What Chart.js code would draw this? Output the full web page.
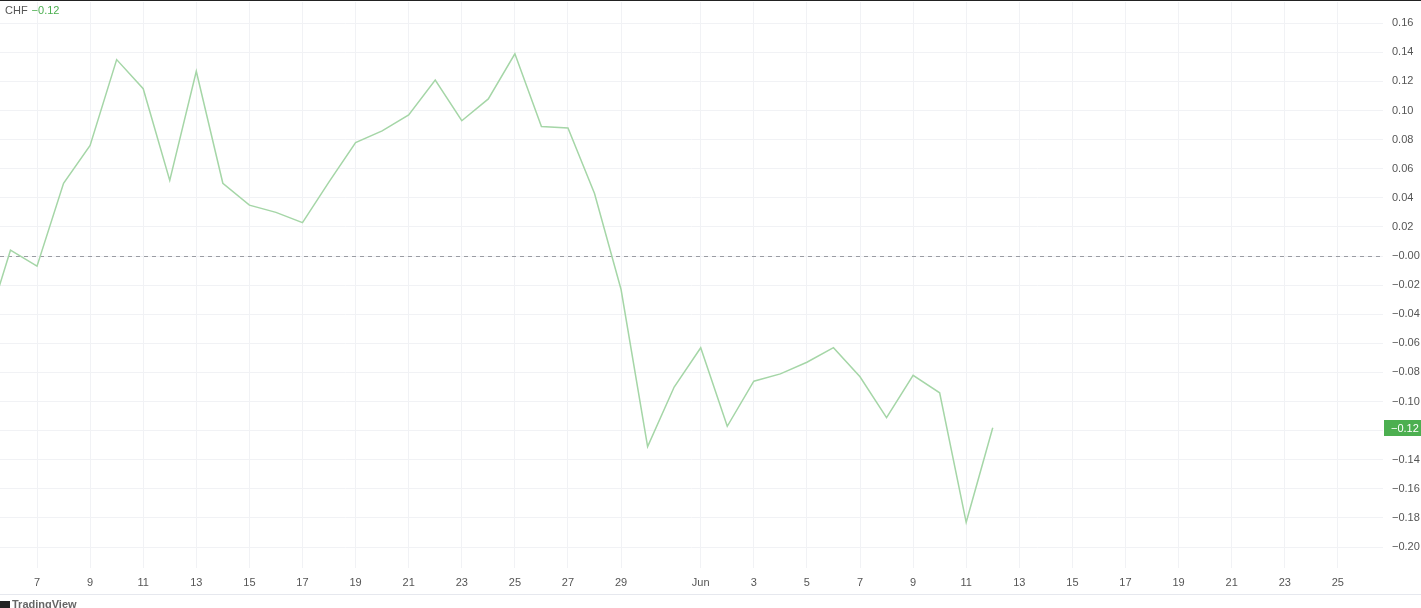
<!DOCTYPE html>
<html>
<head>
<meta charset="utf-8">
<title>CHF</title>
<script src="https://cdn.jsdelivr.net/npm/chart.js@4.4.1/dist/chart.umd.min.js"></script>
<style>
  html, body { margin: 0; padding: 0; background: #fff; overflow: hidden; }
  #wrap { position: relative; width: 1421px; height: 608px; }
  #legend {
    position: absolute; left: 5px; top: 4px;
    font: 11px "Liberation Sans", Arial, sans-serif; color: #555;
  }
  #legend .val { color: #4caf50; margin-left: 4px; }
  #brand {
    position: absolute; left: 0; top: 598px; height: 10px; overflow: hidden;
    font: bold 11px "Liberation Sans", Arial, sans-serif; color: #666; white-space: nowrap;
  }
  #brand .logo { display: inline-block; width: 10px; height: 8px; background: #222; margin-right: 2px; vertical-align: -1px; }
</style>
</head>
<body>
<div id="wrap">
  <canvas id="chart" width="1421" height="608"></canvas>
  <div id="legend">CHF<span class="val">&minus;0.12</span></div>
  <div id="brand"><span class="logo"></span>TradingView</div>
</div>
<script>
// daily values
const dates = [
  '2024-05-05', '2024-05-06', '2024-05-07', '2024-05-08', '2024-05-09', '2024-05-10',
  '2024-05-11', '2024-05-12', '2024-05-13', '2024-05-14', '2024-05-15', '2024-05-16',
  '2024-05-17', '2024-05-18', '2024-05-19', '2024-05-20', '2024-05-21', '2024-05-22',
  '2024-05-23', '2024-05-24', '2024-05-25', '2024-05-26', '2024-05-27', '2024-05-28',
  '2024-05-29', '2024-05-30', '2024-05-31', '2024-06-01', '2024-06-02', '2024-06-03',
  '2024-06-04', '2024-06-05', '2024-06-06', '2024-06-07', '2024-06-08', '2024-06-09',
  '2024-06-10', '2024-06-11', '2024-06-12'
];
const chfValues = [
  -0.055, 0.004, -0.007, 0.050, 0.076, 0.135,
  0.115, 0.052, 0.127, 0.050, 0.035, 0.030,
  0.023, 0.051, 0.078, 0.086, 0.097, 0.121,
  0.093, 0.108, 0.139, 0.089, 0.088, 0.043,
  -0.023, -0.131, -0.090, -0.063, -0.117, -0.086,
  -0.081, -0.073, -0.063, -0.083, -0.111, -0.082,
  -0.094, -0.183, -0.118
];

// x ticks as day numbers counted from May 1 (Jun 1 = 32)
const xTicks = [7, 9, 11, 13, 15, 17, 19, 21, 23, 25, 27, 29, 32, 34, 36, 38, 40, 42, 44, 46, 48, 50, 52, 54, 56];
const xTickLabels = ['7', '9', '11', '13', '15', '17', '19', '21', '23', '25', '27', '29', 'Jun',
  '3', '5', '7', '9', '11', '13', '15', '17', '19', '21', '23', '25'];
const yTicks = [-0.20, -0.18, -0.16, -0.14, -0.12, -0.10, -0.08, -0.06, -0.04, -0.02, 0,
  0.02, 0.04, 0.06, 0.08, 0.10, 0.12, 0.14, 0.16];

const lastLabel = '\u22120.12';
const green = '#4caf50';

function dayNumber(d) {
  return (Date.parse(d) - Date.parse('2024-05-01')) / 86400000 + 1;
}

function fmt(v) {
  const s = Math.abs(v).toFixed(2);
  return (v <= 0 ? '\u2212' : '') + s;
}

const extras = {
  id: 'extras',
  beforeDatasetsDraw(chart) {
    const { ctx, chartArea, scales } = chart;
    const y0 = scales.y.getPixelForValue(0);
    ctx.save();
    ctx.strokeStyle = '#9a9ca3';
    ctx.lineWidth = 1;
    ctx.setLineDash([4, 4]);
    ctx.beginPath();
    ctx.moveTo(chartArea.left, Math.round(y0) + 0.5);
    ctx.lineTo(chartArea.right, Math.round(y0) + 0.5);
    ctx.stroke();
    ctx.restore();
  },
  afterDraw(chart) {
    const { ctx, chartArea, scales, width } = chart;
    ctx.save();
    // top border
    ctx.fillStyle = '#222';
    ctx.fillRect(0, 0, width, 1);
    // bottom separator under time axis
    ctx.fillStyle = '#e6e8ee';
    ctx.fillRect(0, 594, width, 1);
    // last value tag
    const last = chfValues[chfValues.length - 1];
    const yp = Math.round(scales.y.getPixelForValue(last));
    ctx.fillStyle = green;
    ctx.fillRect(chartArea.right + 1, yp - 8, width - chartArea.right - 1, 16);
    ctx.fillStyle = '#fff';
    ctx.font = '11px "Liberation Sans", Arial, sans-serif';
    ctx.textBaseline = 'middle';
    ctx.fillText(lastLabel, chartArea.right + 8, yp + 0.5);
    ctx.restore();
  }
};

new Chart(document.getElementById('chart'), {
  type: 'line',
  data: {
    datasets: [{
      label: 'CHF',
      data: dates.map((d, i) => ({ x: dayNumber(d), y: chfValues[i] })),
      borderColor: '#a5d6a7',
      borderWidth: 1.5,
      pointRadius: 0,
      tension: 0,
      fill: false
    }]
  },
  options: {
    responsive: false,
    animation: false,
    layout: { padding: { top: 2, bottom: 14, left: 0, right: 0 } },
    plugins: { legend: { display: false }, tooltip: { enabled: false } },
    scales: {
      x: {
        type: 'linear',
        min: 5.606,
        max: 57.7,
        afterBuildTicks: axis => { axis.ticks = xTicks.map(v => ({ value: v })); },
        afterFit: axis => { axis.height = 26; axis.paddingLeft = 0; axis.paddingRight = 0; },
        ticks: {
          autoSkip: false,
          maxRotation: 0,
          padding: 8,
          color: '#555',
          font: { size: 11, family: '"Liberation Sans", Arial, sans-serif' },
          callback: (v, i) => xTickLabels[i]
        },
        grid: { color: '#f1f2f5', drawTicks: false },
        border: { display: false }
      },
      y: {
        position: 'right',
        min: -0.2144,
        max: 0.1746,
        afterBuildTicks: axis => { axis.ticks = yTicks.map(v => ({ value: v })); },
        afterFit: axis => { axis.width = 38; axis.paddingTop = 0; axis.paddingBottom = 0; },
        ticks: {
          padding: 9,
          color: '#555',
          font: { size: 11, family: '"Liberation Sans", Arial, sans-serif' },
          callback: v => fmt(v)
        },
        grid: { color: '#f1f2f5', drawTicks: false },
        border: { display: false }
      }
    }
  },
  plugins: [extras]
});
</script>
</body>
</html>
